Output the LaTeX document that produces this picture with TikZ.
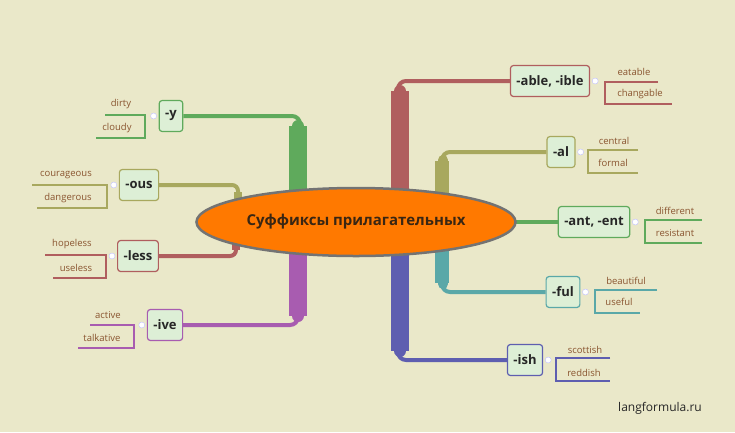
\documentclass[tikz,border=0pt]{standalone}
\usepackage{fontspec}
\setmainfont{Open Sans}
\usetikzlibrary{shapes.geometric}
\begin{document}
\begin{tikzpicture}[x=1pt,y=-1pt,
  suf/.style={draw=#1,line width=1.2pt,fill=boxfill,rounded corners=3pt,font=\bfseries\fontsize{13}{15}\selectfont,inner xsep=6pt,minimum height=31pt,text=black!85},
  leaf/.style={font=\fontsize{9.5}{11}\selectfont,text=leaftext,inner sep=0pt},
  knob/.style={circle,draw=blue!25,fill=white,inner sep=0pt,minimum size=6pt},
  twig/.style={draw=#1,line width=1.2pt}]
\definecolor{bg}{HTML}{EAE8C9}
\definecolor{boxfill}{HTML}{DDEFD6}
\definecolor{leaftext}{HTML}{8A5530}
\definecolor{cG}{HTML}{5FAA5C}
\definecolor{cO}{HTML}{A8A85E}
\definecolor{cR}{HTML}{B05E5E}
\definecolor{cP}{HTML}{A85CB0}
\definecolor{cT}{HTML}{5AA8A8}
\definecolor{cB}{HTML}{5E5EB0}
\fill[bg] (0,0) rectangle (735,432);
\useasboundingbox (0,0) rectangle (735,432);
% nodes
\node[suf=cG] (y) at (171,116) {-y};
\node[suf=cO] (ous) at (139,185) {-ous};
\node[suf=cR] (less) at (138,256) {-less};
\node[suf=cP] (ive) at (165,325) {-ive};
\node[suf=cR] (able) at (550,81) {-able, -ible};
\node[suf=cO] (al) at (561,152) {-al};
\node[suf=cG] (ant) at (594,222) {-ant, -ent};
\node[suf=cT] (ful) at (563,292) {-ful};
\node[suf=cB] (ish) at (525,360) {-ish};
% branches
\begin{scope}[line cap=butt]
\draw[cG,line width=18pt] (298,200) -- (298,126);
\draw[cG,line width=12pt,line cap=round] (298,135) -- (298,126);
\draw[cG,line width=4pt,rounded corners=8pt] (y.east) -- (300,116) -- (300,130);
\draw[cO,line width=8pt] (238,205) -- (238,192);
\draw[cO,line width=4pt,rounded corners=6pt] (ous.east) -- (238,185) -- (238,198);
\draw[cR,line width=8pt] (236,240) -- (236,250);
\draw[cR,line width=4pt,rounded corners=6pt] (less.east) -- (236,256) -- (236,243);
\draw[cP,line width=18pt] (298,250) -- (298,316);
\draw[cP,line width=12pt,line cap=round] (298,305) -- (298,316);
\draw[cP,line width=4pt,rounded corners=8pt] (ive.east) -- (298,325) -- (298,310);
\draw[cR,line width=18pt] (400,200) -- (400,91);
\draw[cR,line width=12pt,line cap=round] (400,100) -- (400,91);
\draw[cR,line width=4pt,rounded corners=8pt] (able.west) -- (398,81) -- (398,96);
\draw[cO,line width=14pt] (442,205) -- (442,161);
\draw[cO,line width=10pt,line cap=round] (443,170) -- (443,160);
\draw[cO,line width=4pt,rounded corners=8pt] (al.west) -- (442,152) -- (442,165);
\draw[cG,line width=4pt] (500,222) -- (ant.west);
\draw[cT,line width=14pt] (442,245) -- (442,283);
\draw[cT,line width=10pt,line cap=round] (443,275) -- (443,284);
\draw[cT,line width=4pt,rounded corners=8pt] (ful.west) -- (442,292) -- (442,280);
\draw[cB,line width=18pt] (400,245) -- (400,351);
\draw[cB,line width=12pt,line cap=round] (400,340) -- (400,351);
\draw[cB,line width=4pt,rounded corners=8pt] (ish.west) -- (398,360) -- (398,345);
\end{scope}
% center
\node[ellipse,draw=black!55,line width=2.5pt,fill=orange!95!red,minimum width=292pt,minimum height=68pt,font=\bfseries\fontsize{15}{17}\selectfont,text=black!70!brown] (c) at (356,222) {Суффиксы прилагательных};
% leaves
\newcommand\leafset[6]{% col, xb, x1, y1, x2, y2
  \draw[twig=#1] (#3,#4) -- (#2,#4) -- (#2,#6) -- (#5,#6);}
% right
\leafset{cR}{605}{658}{82}{672}{104}
\leafset{cO}{588}{638}{150}{638}{173}
\leafset{cG}{645}{702}{220}{702}{243}
\leafset{cT}{595}{657}{290}{640}{313}
\leafset{cB}{556}{610}{358}{610}{381}
% left
\leafset{cG}{145}{105}{115}{96}{138}
\leafset{cO}{107}{32}{185}{37}{208}
\leafset{cR}{106}{45}{255}{53}{278}
\leafset{cP}{134}{90}{325}{78}{348}
\foreach \n in {able,al,ant,ful,ish}{
  \node[knob] (k\n) at ([xshift=5pt]\n.east) {};}
\foreach \n in {y,ous,less,ive}{
  \node[knob] (k\n) at ([xshift=-5pt]\n.west) {};}
\node[leaf] (l1) at (634,72) {eatable};
\node[leaf] (l2) at (640,94) {changable};
\node[leaf] (l3) at (614,141) {central};
\node[leaf] (l4) at (613,163) {formal};
\node[leaf] (l5) at (675,211) {different};
\node[leaf] (l6) at (675,233) {resistant};
\node[leaf] (l7) at (626,281) {beautiful};
\node[leaf] (l8) at (619,302) {useful};
\node[leaf] (l9) at (585,350) {scottish};
\node[leaf] (l10) at (584,373) {reddish};
\node[leaf] (l11) at (121,104) {dirty};
\node[leaf] (l12) at (117,128) {cloudy};
\node[leaf] (l13) at (66,175) {courageous};
\node[leaf] (l14) at (68,198) {dangerous};
\node[leaf] (l15) at (72,244) {hopeless};
\node[leaf] (l16) at (76,268) {useless};
\node[leaf] (l17) at (108,315) {active};
\node[leaf] (l18) at (102,338) {talkative};
\node[font=\fontsize{12}{14}\selectfont,text=black!85] (site) at (660,408) {langformula.ru};
\end{tikzpicture}
\end{document}
